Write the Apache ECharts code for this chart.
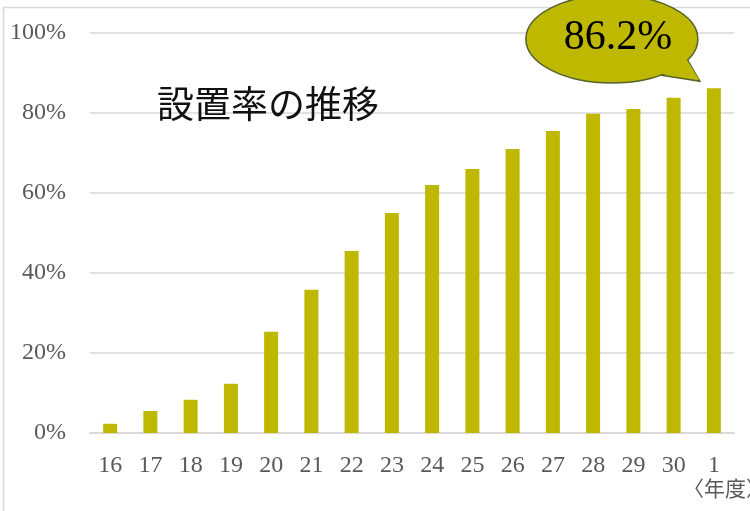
<!DOCTYPE html>
<html><head><meta charset="utf-8">
<script src="https://cdn.jsdelivr.net/npm/echarts@6/dist/echarts.min.js"></script>
<style>html,body{margin:0;padding:0;background:#fff}#c{width:750px;height:511px}</style>
</head><body><div id="c"></div>
<script>
const categories = ['16','17','18','19','20','21','22','23','24','25','26','27','28','29','30','1'];
const rates = [2.3, 5.5, 8.3, 12.3, 25.3, 35.8, 45.5, 55.0, 62.0, 66.0, 71.0, 75.5, 79.8, 81.0, 83.8, 86.2];
const yTicks = [0, 20, 40, 60, 80, 100];
const titleText = '設置率の推移';
const unitText = '〈年度〉';
const calloutText = '86.2%';

const serif = '"Liberation Serif","DejaVu Serif",serif';
const chart = echarts.init(document.getElementById('c'));
chart.setOption({
  animation: false,
  grid: {left: 90, right: 16, top: 33, bottom: 78},
  xAxis: {
    type: 'category', data: categories,
    axisLine: {lineStyle: {color: '#d9d9d9', width: 2}},
    axisTick: {show: false},
    axisLabel: {color: '#595959', fontFamily: serif, fontSize: 24, margin: 21}
  },
  yAxis: {
    type: 'value', min: 0, max: 100, interval: 20,
    axisLine: {show: false}, axisTick: {show: false},
    splitLine: {lineStyle: {color: '#d9d9d9', width: 1.5}},
    axisLabel: {color: '#595959', fontFamily: serif, fontSize: 24, margin: 24,
      formatter: v => yTicks.includes(v) ? v + '%' : ''}
  },
  series: [{
    type: 'bar', data: rates, barWidth: 14,
    itemStyle: {color: '#BFB800'}
  }]
});
// callout attached to the last bar
const last = chart.convertToPixel({seriesIndex: 0}, [categories.length - 1, rates[rates.length - 1]]);
const cx = last[0] - 102, cy = 39;
const edge = '#56622b', fillC = '#BFB800';
chart.setOption({graphic: [
  {type: 'rect', shape: {x: 3.5, y: 7.5, width: 760, height: 520},
   style: {fill: 'none', stroke: '#d9d9d9', lineWidth: 1.5}, z: -10, silent: true},
  {type: 'text', x: 157, y: 104,
   style: {text: titleText, fontSize: 37, fontFamily: '"Noto Sans CJK JP"', fontWeight: 'normal', fill: '#111', verticalAlign: 'middle'}},
  {type: 'text', x: 683, y: 478,
   style: {text: unitText, fontSize: 21, fontFamily: '"Noto Sans CJK JP"', fontWeight: 'normal', fill: '#595959'}},
  {type: 'polygon', z: 100, shape: {points: [[cx + 48, cy + 36], [last[0] - 14, last[1] - 7], [cx + 74, cy + 18]]},
   style: {fill: fillC, stroke: edge, lineWidth: 1.5}},
  {type: 'ellipse', z: 101, shape: {cx: cx, cy: cy, rx: 86, ry: 44},
   style: {fill: fillC, stroke: edge, lineWidth: 1.5}},
  {type: 'polygon', z: 102, shape: {points: [[cx + 46, cy + 34], [last[0] - 15, last[1] - 9], [cx + 72, cy + 16]]},
   style: {fill: fillC}},
  {type: 'text', z: 103, x: cx + 6, y: cy - 1,
   style: {text: calloutText, fontSize: 42, fontFamily: serif, fill: '#000', align: 'center', verticalAlign: 'middle'}}
]});
</script></body></html>
